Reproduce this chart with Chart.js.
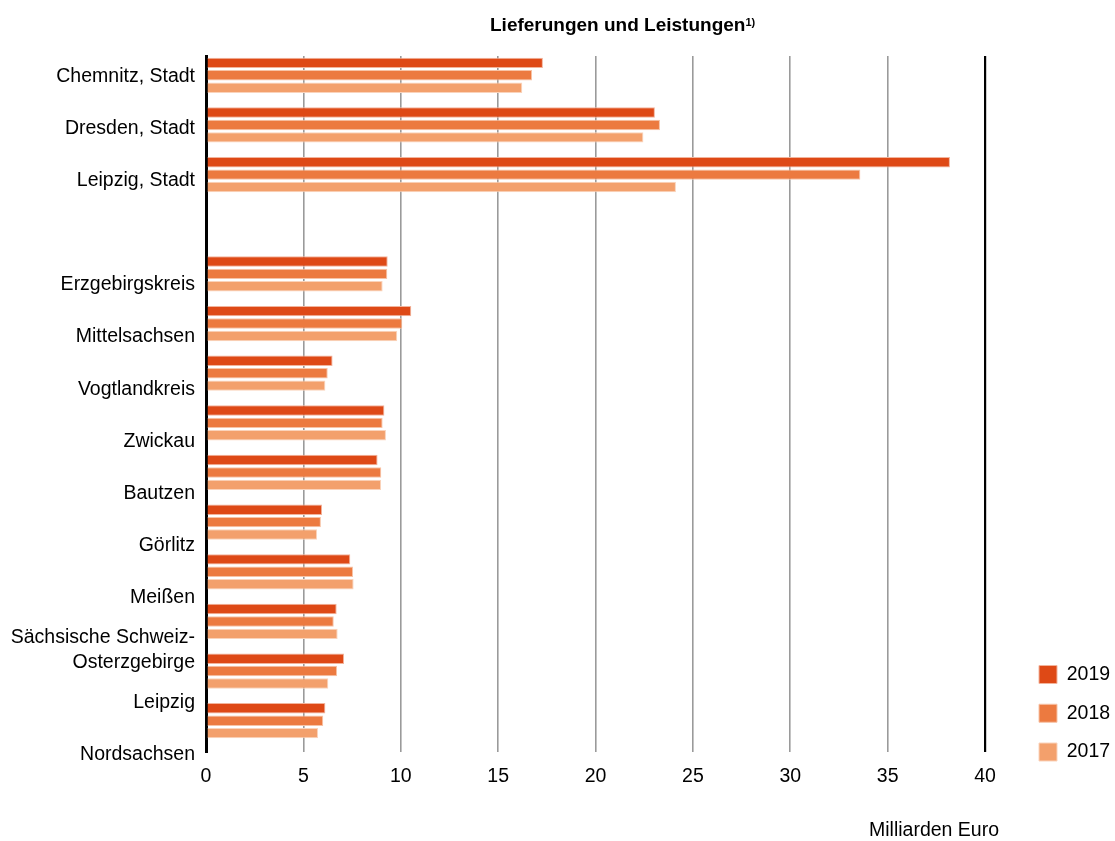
<!DOCTYPE html>
<html><head><meta charset="utf-8">
<script src="https://cdn.jsdelivr.net/npm/chart.js@4"></script>
<style>
html,body{margin:0;padding:0;background:#fff;overflow:hidden}
#wrap{position:relative;width:1115px;height:841px}
#c{position:absolute;left:0;top:0}
.t{position:absolute;font-family:"Liberation Sans",Arial,sans-serif;color:#000;white-space:nowrap;line-height:20px}
</style></head><body>
<div id="wrap">
<canvas id="c" width="1115" height="841"></canvas>
<div class="t" id="title" style="left:490px;top:12px;font-size:19px;font-weight:bold">Lieferungen und Leistungen<span style="font-size:11px;vertical-align:5px">1)</span></div>
<div class="t" id="xt" style="left:869px;top:819px;font-size:19.5px">Milliarden Euro</div>
</div>
<script>
// Categories (one empty slot separates the cities from the districts)
const categories = ['Chemnitz, Stadt','Dresden, Stadt','Leipzig, Stadt','','Erzgebirgskreis','Mittelsachsen','Vogtlandkreis','Zwickau','Bautzen','Görlitz','Meißen',['Sächsische Schweiz-','Osterzgebirge'],'Leipzig','Nordsachsen'];
const seriesNames = ['2019','2018','2017'];
const v2019 = [17.3, 23.05, 38.2, null, 9.33, 10.54, 6.5, 9.16, 8.81, 5.96, 7.41, 6.71, 7.09, 6.13];
const v2018 = [16.74, 23.31, 33.6, null, 9.31, 10.08, 6.25, 9.07, 9.0, 5.9, 7.55, 6.56, 6.73, 6.02];
const v2017 = [16.24, 22.46, 24.13, null, 9.07, 9.82, 6.13, 9.24, 8.99, 5.7, 7.58, 6.76, 6.28, 5.75];
const xTicks = [0,5,10,15,20,25,30,35,40];

const colors = ['#DE4916','#EC7A40','#F3A06C'];
const edgeColors = ['#F2B49C','#F7C3A6','#FAD3BB'];
const toPoints = arr => arr.map((v,i)=>({x:v, y:i})).filter(p=>p.x!==null);

Chart.defaults.font.family = '"Liberation Sans", Arial, sans-serif';
Chart.defaults.font.size = 19.5;
Chart.defaults.color = '#000';

const legendPlace = {
  id:'legendPlace',
  afterLayout(chart){
    const lg = chart.legend; if(!lg) return;
    const w = lg.width, h = lg.height;
    lg.left = 1039 - 19.25; lg.right = lg.left + w;
    lg.bottom = 781; lg.top = lg.bottom - h;
  }
};

new Chart(document.getElementById('c'), {
  type:'bar',
  data:{
    datasets:[v2019,v2018,v2017].map((arr,k)=>({
      label: seriesNames[k],
      data: toPoints(arr),
      backgroundColor: colors[k],
      borderColor: edgeColors[k],
      borderWidth: 1,
      xAxisID:'x', yAxisID:'y',
      categoryPercentage:0.75, barPercentage:0.84
    }))
  },
  options:{
    indexAxis:'y',
    responsive:false,
    animation:false,
    events:[],
    layout:{padding:{top:56,right:30,bottom:0,left:0}},
    scales:{
      x:{
        type:'linear', position:'bottom', min:0, max:40, offset:false,
        afterBuildTicks: s => { s.ticks = xTicks.map(v=>({value:v})); },
        afterFit: s => { s.height = 89; },
        ticks:{padding:12.5, color:'#000', font:{size:19.5}},
        grid:{
          offset:false,
          drawTicks:false,
          color: c => (c.tick && (c.tick.value===0 || c.tick.value===40)) ? '#000' : '#9a9a9a',
          lineWidth: c => (c.tick && c.tick.value===40) ? 2.2 : (c.tick && c.tick.value===0 ? 3 : 1.6)
        },
        border:{display:false}
      },
      y:{
        type:'linear', display:false, reverse:true, min:-0.389, max:13.63, offset:false,
        grid:{offset:false},
        afterBuildTicks: s => { s.ticks = categories.map((_,i)=>({value:i})); }
      },
      labels:{
        type:'linear', axis:'y', position:'left', reverse:true, min:-0.339, max:13, offset:false,
        z:1,
        afterBuildTicks: s => { s.ticks = categories.map((_,i)=>({value:i})); },
        afterFit: s => { s.width = 206; },
        ticks:{
          autoSkip:false, padding:11, color:'#000', labelOffset:2.5,
          font:{size:19.5, lineHeight:1.28},
          callback: (v) => categories[Math.round(v)]
        },
        grid:{display:false, drawTicks:false, offset:false},
        border:{display:true, color:'#000', width:3}
      }
    },
    plugins:{
      legend:{
        position:'right', align:'end', maxWidth:100,
        labels:{boxWidth:18, boxHeight:18, padding:19.25, color:'#000', font:{size:19.5}}
      },
      tooltip:{enabled:false},
      title:{display:false}
    }
  },
  plugins:[legendPlace]
});
</script>
</body></html>
